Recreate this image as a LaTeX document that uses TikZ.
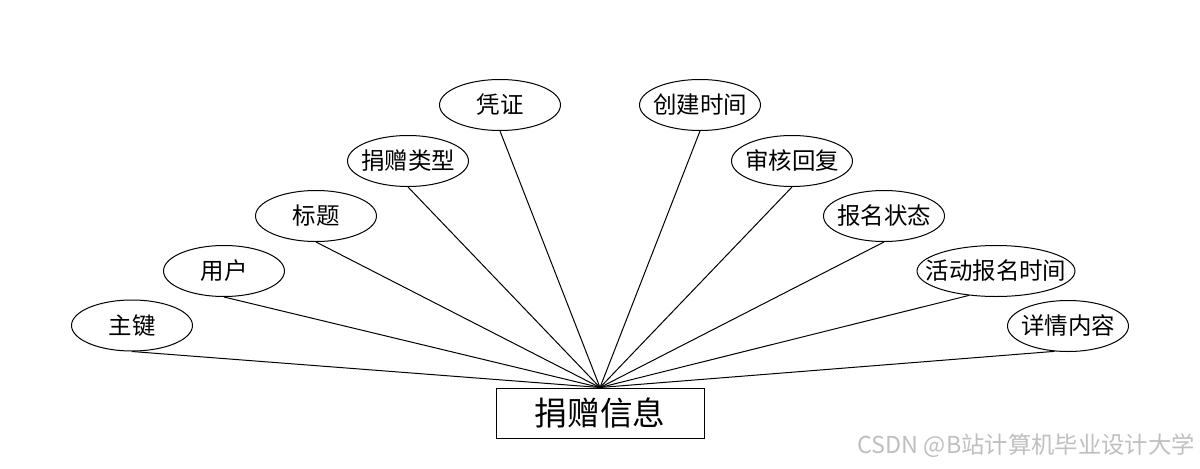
\documentclass[tikz,border=0pt]{standalone}
\usepackage{fontspec}
\setmainfont{Noto Sans CJK SC}
\usetikzlibrary{shapes.geometric}
\begin{document}
\begin{tikzpicture}[x=0.75pt,y=-0.75pt,
  attr/.style={ellipse,draw,line width=0.75pt,minimum width=90.75pt,minimum height=38.25pt,inner sep=0pt,
    label={[font=\fontsize{17.6}{20}\selectfont,inner sep=0pt]center:#1}},
  entity/.style={rectangle,draw,line width=0.75pt,minimum width=156pt,minimum height=37.5pt,inner sep=0pt,font=\fontsize{24.5}{28}\selectfont},
  link/.style={line width=0.75pt}]
\useasboundingbox (0,0) rectangle (1200,468);
\node[entity] (main) at (600,413) {捐赠信息};
\node[attr=主键] (e1) at (132,325.5) {};
\node[attr=用户] (e2) at (224,271) {};
\node[attr=标题] (e3) at (316,216) {};
\node[attr=捐赠类型] (e4) at (408,161) {};
\node[attr=凭证] (e5) at (500,105) {};
\node[attr=创建时间] (e6) at (700,105) {};
\node[attr=审核回复] (e7) at (792,161) {};
\node[attr=报名状态] (e8) at (884,216) {};
\node[attr=活动报名时间,minimum width=118.5pt] (e9) at (996,271) {};
\node[attr=详情内容] (e10) at (1068,326) {};
\foreach \e in {e1,e2,e3,e4,e5,e6,e7,e8}
  \draw[link] (\e.south) -- (main.north);
\draw[link] (e9.222) -- (main.north);
\draw[link] (e10.242) -- (main.north);
\node[anchor=east,text=black!25,font=\fontsize{17.5}{20}\selectfont,inner sep=0pt] (wm) at (1195,446) {CSDN @B站计算机毕业设计大学};
\end{tikzpicture}
\end{document}
